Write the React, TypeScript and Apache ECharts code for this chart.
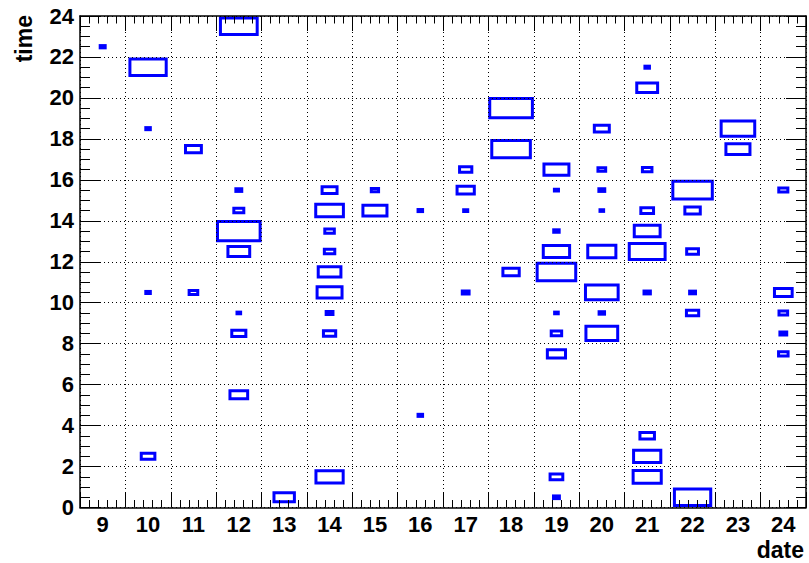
import React, { useEffect, useRef } from "react";
import * as echarts from "echarts";

// Category labels on the x axis (days)
const dateLabels = ["9", "10", "11", "12", "13", "14", "15", "16", "17", "18", "19", "20", "21", "22", "23", "24"];

// Box histogram cells: date, hour bin (lower edge), relative content (max 10)
const boxDates = [
  9,
  10, 10, 10, 10,
  11, 11,
  12, 12, 12, 12, 12, 12, 12, 12,
  13,
  14, 14, 14, 14, 14, 14, 14, 14, 14,
  15, 15,
  16, 16,
  17, 17, 17, 17,
  18, 18, 18,
  19, 19, 19, 19, 19, 19, 19, 19, 19, 19,
  20, 20, 20, 20, 20, 20, 20, 20,
  21, 21, 21, 21, 21, 21, 21, 21, 21, 21,
  22, 22, 22, 22, 22, 22,
  23, 23,
  24, 24, 24, 24, 24,
];
const boxHours = [
  22,
  21, 18, 10, 2,
  17, 10,
  23, 15, 14, 13, 12, 9, 8, 5,
  0,
  15, 14, 13, 12, 11, 10, 9, 8, 1,
  15, 14,
  14, 4,
  16, 15, 14, 10,
  19, 17, 11,
  16, 15, 13, 12, 11, 9, 8, 7, 1, 0,
  18, 16, 15, 14, 12, 10, 9, 8,
  21, 20, 16, 14, 13, 12, 10, 3, 2, 1,
  15, 14, 12, 10, 9, 0,
  18, 17,
  15, 10, 9, 8, 7,
];
const boxContents = [
  1.1,
  8.0, 1.0, 1.0, 3.0,
  3.5, 1.9,
  8.1, 1.3, 2.2, 9.4, 4.8, 0.8, 3.1, 3.9,
  4.5,
  3.3, 6.1, 2.1, 2.3, 5.0, 5.5, 1.5, 2.7, 6.0,
  1.6, 5.3,
  1.0, 1.0,
  2.7, 3.8, 0.9, 1.5,
  9.4, 8.5, 3.6,
  5.5, 0.9, 1.2, 5.8, 8.5, 0.8, 2.3, 4.0, 2.8, 1.3,
  3.3, 1.7, 1.3, 0.8, 6.2, 7.2, 1.2, 7.0,
  1.0, 4.6, 2.1, 2.8, 5.7, 7.9, 1.4, 3.2, 6.0, 6.2,
  8.7, 3.4, 2.6, 1.3, 2.7, 8.0,
  7.4, 5.3,
  2.0, 3.9, 1.9, 1.5, 2.1,
];
const contentMax = 10;

const FONT = "Liberation Sans, Arial, Helvetica, sans-serif";

export default function App() {
  const ref = useRef<HTMLDivElement>(null);

  useEffect(() => {
    if (!ref.current) return;
    const chart = echarts.init(ref.current, null, { renderer: "svg" });

    const data = boxDates.map((d, i) => [d, boxHours[i], boxContents[i]]);

    const dotted = { color: "#000", width: 1, type: [1, 3] as any };

    const valueX = (position: string, showSplit: boolean) => ({
      type: "value",
      position,
      min: 8.5,
      max: 24.5,
      interval: 1,
      z: 5,
      axisLine: { show: true, onZero: false, lineStyle: { color: "#000", width: 1.5 } },
      axisTick: { show: true, inside: true, length: 15, lineStyle: { color: "#000", width: 1 } },
      minorTick: { show: true, splitNumber: 5, length: 7.5, lineStyle: { color: "#000", width: 1 } },
      axisLabel: { show: false },
      splitLine: { show: showSplit, lineStyle: dotted },
      minorSplitLine: { show: false },
    });

    const valueY = (position: string, showLabels: boolean, showSplit: boolean) => ({
      type: "value",
      position,
      min: 0,
      max: 24,
      interval: 2,
      z: 5,
      axisLine: { show: true, onZero: false, lineStyle: { color: "#000", width: 1.5 } },
      axisTick: { show: true, inside: true, length: 20, lineStyle: { color: "#000", width: 1 } },
      minorTick: { show: true, splitNumber: 4, length: 10, lineStyle: { color: "#000", width: 1 } },
      axisLabel: {
        show: showLabels,
        margin: 6,
        color: "#000",
        fontFamily: FONT,
        fontWeight: "bold",
        fontSize: 22,
      },
      splitLine: { show: showSplit, lineStyle: dotted },
      minorSplitLine: { show: false },
    });

    chart.setOption({
      animation: false,
      backgroundColor: "#fff",
      grid: { left: 80, right: 3, top: 16, bottom: 55.5, containLabel: false },
      xAxis: [
        {
          type: "category",
          position: "bottom",
          data: dateLabels,
          boundaryGap: true,
          axisLine: { show: false },
          axisTick: { show: false },
          splitLine: { show: false },
          axisLabel: {
            margin: 6,
            color: "#000",
            fontFamily: FONT,
            fontWeight: "bold",
            fontSize: 22,
          },
        },
        valueX("bottom", true),
        valueX("top", false),
      ],
      yAxis: [valueY("left", true, true), valueY("right", false, false)],
      graphic: [
        {
          type: "text",
          x: 24,
          y: 15,
          rotation: Math.PI / 2,
          style: {
            text: "time",
            align: "right",
            verticalAlign: "middle",
            fill: "#000",
            font: `bold 23px ${FONT}`,
          },
        },
        {
          type: "text",
          x: 804,
          y: 549.5,
          style: {
            text: "date",
            align: "right",
            verticalAlign: "middle",
            fill: "#000",
            font: `bold 23px ${FONT}`,
          },
        },
      ],
      series: [
        {
          type: "custom",
          xAxisIndex: 1,
          yAxisIndex: 0,
          z: 2,
          clip: false,
          data,
          renderItem: (params: any, api: any) => {
            const d = api.value(0);
            const h = api.value(1);
            const v = api.value(2);
            const s = v / contentMax;
            const c = api.coord([d, h + 0.5]);
            const sz = api.size([1, 1]);
            const w = sz[0] * s;
            const hh = sz[1] * s;
            return {
              type: "rect",
              shape: { x: c[0] - w / 2, y: c[1] - hh / 2, width: w, height: hh },
              style: { fill: "none", stroke: "#0000ff", lineWidth: 3 },
            };
          },
        },
      ],
    });

    return () => chart.dispose();
  }, []);

  return (
    <div
      ref={ref}
      style={{ position: "fixed", left: 0, top: 0, width: 809, height: 563, background: "#fff" }}
    />
  );
}
